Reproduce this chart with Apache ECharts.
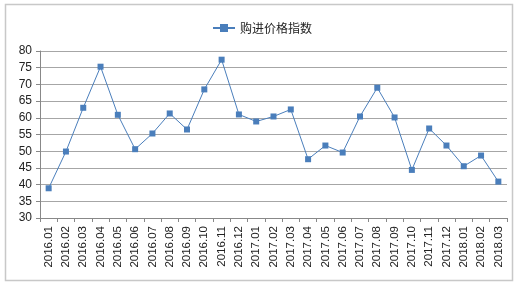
<!DOCTYPE html>
<html><head><meta charset="utf-8">
<script src="https://cdn.jsdelivr.net/npm/echarts@6/dist/echarts.min.js"></script>
<style>html,body{margin:0;padding:0;background:#fff}#c{width:524px;height:285px}</style>
</head><body><div id="c"></div>
<script>
const categories = ['2016.01','2016.02','2016.03','2016.04','2016.05','2016.06','2016.07','2016.08','2016.09','2016.10','2016.11','2016.12','2017.01','2017.02','2017.03','2017.04','2017.05','2017.06','2017.07','2017.08','2017.09','2017.10','2017.11','2017.12','2018.01','2018.02','2018.03'];
const seriesName = '购进价格指数';
const values = [38.9,49.9,63.0,75.3,60.9,50.6,55.3,61.3,56.5,68.5,77.4,61.0,58.9,60.4,62.5,47.6,51.7,49.6,60.4,69.0,60.1,44.4,56.8,51.7,45.5,48.7,40.9];
const yTicks = {min:30, max:80, interval:5};

const chart = echarts.init(document.getElementById('c'), null, {renderer:'canvas'});
const font = '"Liberation Sans", "Noto Sans CJK SC", sans-serif';
chart.setOption({
  animation:false,
  textStyle:{fontFamily:font},
  graphic:[{type:'rect', shape:{x:5.5,y:4.5,width:507,height:276}, style:{fill:null, stroke:'#c8c8c8', lineWidth:1.5}, silent:true}],
  legend:{top:17, left:'center', itemWidth:22, itemHeight:10, itemGap:6,
    textStyle:{fontSize:12, color:'#222', fontFamily:'"Noto Sans CJK SC", sans-serif'},
    data:[{name:seriesName}]},
  grid:{left:40, right:17, top:51, bottom:67},
  xAxis:{type:'category', data:categories, boundaryGap:true,
    axisLine:{lineStyle:{color:'#888', width:1}},
    axisTick:{show:true, alignWithLabel:false, length:4, lineStyle:{color:'#888'}},
    axisLabel:{rotate:90, fontSize:11.5, color:'#222', margin:8, interval:0}},
  yAxis:{type:'value', min:yTicks.min, max:yTicks.max, interval:yTicks.interval,
    axisLine:{show:true, lineStyle:{color:'#888'}},
    axisTick:{show:true, length:4, lineStyle:{color:'#888'}},
    axisLabel:{fontSize:12, color:'#222', margin:8},
    splitLine:{lineStyle:{color:'#a6a6a6', width:1}}},
  series:[{name:seriesName, type:'line', data:values,
    symbol:'rect', symbolSize:6,
    lineStyle:{color:'#4a7ebb', width:1},
    itemStyle:{color:'#4a7ebb'}}]
});
</script></body></html>
